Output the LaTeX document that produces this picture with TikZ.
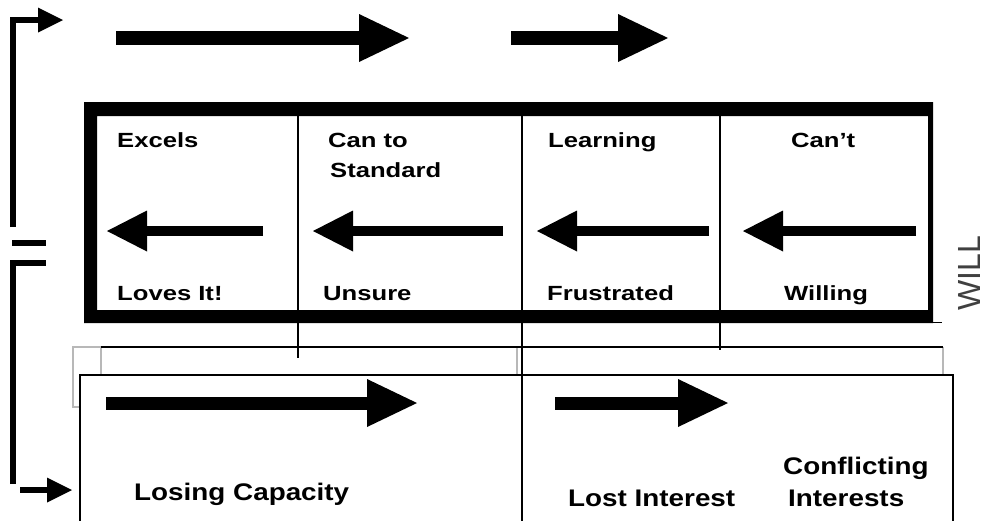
\documentclass[tikz,border=0pt]{standalone}
\usepackage{fontspec}
\usetikzlibrary{arrows.meta}
\newfontfamily\boxfont[FakeStretch=1.25]{Liberation Sans}
\newfontfamily\lowfont[FakeStretch=1.16]{Liberation Sans}
\newfontfamily\sidefont{Liberation Sans}

\begin{document}
\begin{tikzpicture}[x=1pt,y=-1pt,
  thinline/.style={line width=1.4pt, draw=black},
  faintline/.style={line width=1.2pt, draw=black!28},
  bigarrow/.style={line width=14pt, -{Triangle[length=50pt,width=48pt,line width=0pt]}},
  midarrow/.style={line width=10pt, -{Triangle[length=40pt,width=41pt,line width=0pt]}},
  loopline/.style={line width=5.5pt, line join=miter},
  loophead/.style={-{Triangle[length=25pt,width=25pt,line width=0pt]}},
  boxtext/.style={anchor=base west, inner sep=0pt, font=\boxfont\bfseries\fontsize{20.5}{24}\selectfont},
  lowtext/.style={anchor=base west, inner sep=0pt, font=\lowfont\bfseries\fontsize{24}{28}\selectfont},
]
\useasboundingbox (0,0) rectangle (987,520);

% ---- thick frame of the WILL band ----
\fill[even odd rule] (84,102) rectangle (933,323) (97,116) rectangle (928,310);
\draw[thinline] (933,322.5) -- (942,322.5);

% ---- column dividers ----
\coordinate (d1t) at (298,116); \coordinate (d1b) at (298,358);
\coordinate (d2t) at (522,116); \coordinate (d2b) at (522,522);
\coordinate (d3t) at (720,116); \coordinate (d3b) at (720,350);
\draw[thinline] (d1t) -- (d1b);
\draw[thinline] (d2t) -- (d2b);
\draw[thinline] (d3t) -- (d3b);

% ---- middle strip ----
\draw[faintline] (80,407) -- (73,407) -- (73,347) -- (101,347);
\draw[faintline] (101,347) -- (101,375);
\draw[faintline] (517,347) -- (517,375);
\draw[faintline] (943,347) -- (943,375);
\draw[thinline] (101,347) -- (943,347);

% ---- lower box ----
\draw[thinline] (80,522) -- (80,375) -- (953,375) -- (953,522);

% ---- top arrows ----
\coordinate (ta1) at (116,38); \coordinate (tb1) at (409,38);
\coordinate (ta2) at (511,38); \coordinate (tb2) at (668,38);
\draw[bigarrow] (ta1) -- (tb1);
\draw[bigarrow] (ta2) -- (tb2);

% ---- arrows inside the band ----
\coordinate (ma1) at (263,231); \coordinate (mb1) at (107,231);
\coordinate (ma2) at (503,231); \coordinate (mb2) at (313,231);
\coordinate (ma3) at (709,231); \coordinate (mb3) at (537,231);
\coordinate (ma4) at (916,231); \coordinate (mb4) at (743,231);
\draw[midarrow] (ma1) -- (mb1);
\draw[midarrow] (ma2) -- (mb2);
\draw[midarrow] (ma3) -- (mb3);
\draw[midarrow] (ma4) -- (mb4);

% ---- lower arrows ----
\coordinate (la1) at (106,403); \coordinate (lb1) at (417,403);
\coordinate (la2) at (555,403); \coordinate (lb2) at (728,403);
\draw[bigarrow, line width=13pt] (la1) -- (lb1);
\draw[bigarrow, line width=13pt] (la2) -- (lb2);

% ---- left loop ----
\coordinate (up0) at (13,227); \coordinate (up1) at (63,20);
\coordinate (bar0) at (12,243); \coordinate (bar1) at (46,243);
\coordinate (dn0) at (13,484); \coordinate (dn1) at (46,263);
\coordinate (in0) at (20,490); \coordinate (in1) at (72,490);
\draw[loopline, loophead] (up0) |- (up1);
\draw[loopline] (bar0) -- (bar1);
\draw[loopline] (dn0) |- (dn1);
\draw[loopline, line width=6.5pt, loophead] (in0) -- (in1);

% ---- labels in the band ----
\node[boxtext] (excels) at (117,147) {Excels};
\node[boxtext] (canto) at (328,147) {Can to};
\node[boxtext] (standard) at (330,177) {Standard};
\node[boxtext] (learning) at (548,147) {Learning};
\node[boxtext] (cant) at (791,147) {Can’t};
\node[boxtext] (loves) at (117,300) {Loves It!};
\node[boxtext] (unsure) at (323,300) {Unsure};
\node[boxtext] (frustrated) at (547,300) {Frustrated};
\node[boxtext] (willing) at (784,300) {Willing};

% ---- labels in the lower box ----
\node[lowtext] (losing) at (134,500) {Losing Capacity};
\node[lowtext] (lost) at (568,506) {Lost Interest};
\node[lowtext] (conflicting) at (783,474) {Conflicting};
\node[lowtext] (interests) at (788,506) {Interests};

% ---- side label ----
\node[rotate=90, anchor=base west, inner sep=0pt, text=black!75,
      font=\sidefont\fontsize{32}{36}\selectfont] (will) at (980,311) {WILL};
\end{tikzpicture}
\end{document}
